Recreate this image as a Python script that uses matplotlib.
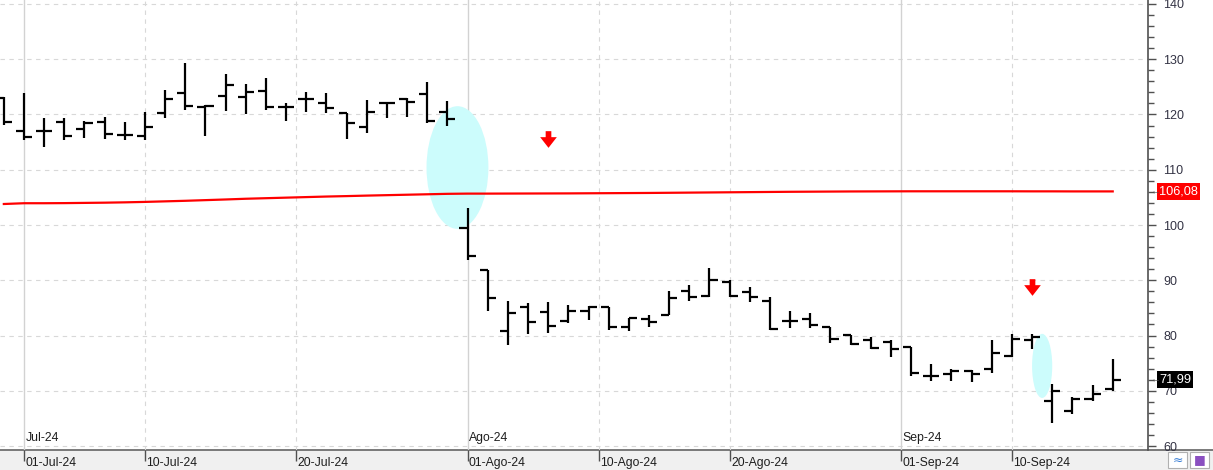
import numpy as np
import pandas as pd
import matplotlib
matplotlib.use("Agg")
import matplotlib.pyplot as plt
from matplotlib.patches import Ellipse, Rectangle
from matplotlib.path import Path
from matplotlib.lines import Line2D
import matplotlib.transforms as mtransforms

plt.rcParams['font.family'] = ['Liberation Sans', 'DejaVu Sans']

# trading days (US calendar, Jul 4 and Sep 2 closed)
dates = pd.bdate_range('2024-06-28', '2024-09-17')
dates = dates.drop(pd.to_datetime(['2024-07-04', '2024-09-02']))

# OHLC
opens = [122.9, 117.1, 117.1, 118.7, 117.4, 118.7, 116.3, 116.1, 120.2, 123.8,
         121.4, 123.4, 123.2, 124.3, 121.3, 122.75, 122.0, 120.2, 117.8, 122.0,
         122.75, 123.7, 120.4, 99.4, 91.9, 80.8, 85.2, 84.3, 82.6, 84.5,
         85.2, 81.6, 83.0, 83.8, 88.1, 87.15, 89.6, 87.9, 86.3, 82.7,
         83.0, 81.5, 80.1, 79.1, 78.9, 77.9, 72.7, 73.0, 73.6, 73.9,
         76.3, 79.2, 68.1, 66.4, 68.45, 70.4]
highs = [123.1, 123.95, 119.3, 119.3, 118.9, 119.5, 118.7, 120.5, 124.4, 129.4,
         121.7, 127.3, 125.5, 126.6, 122.1, 124.1, 123.8, 120.2, 122.6, 122.3,
         122.9, 125.8, 122.5, 103.0, 91.9, 86.2, 85.9, 86.1, 85.6, 85.4,
         85.2, 83.1, 83.8, 88.1, 89.1, 92.2, 90.0, 88.8, 87.0, 84.5,
         84.0, 81.6, 80.1, 79.8, 79.1, 77.9, 74.8, 73.9, 73.8, 79.1,
         80.2, 80.2, 71.2, 68.9, 71.0, 75.7]
lows = [118.1, 115.3, 114.1, 115.4, 115.7, 115.5, 115.3, 115.4, 119.3, 120.9,
        116.1, 120.7, 120.1, 120.9, 118.8, 120.4, 120.2, 115.5, 116.6, 119.3,
        119.6, 118.5, 118.0, 93.7, 84.5, 78.2, 80.2, 80.4, 82.2, 82.8,
        81.0, 80.8, 81.5, 83.8, 86.3, 87.0, 87.0, 86.0, 81.0, 81.3,
        81.3, 78.6, 78.3, 77.6, 76.2, 72.7, 71.8, 71.8, 71.6, 73.3,
        76.05, 77.5, 64.2, 65.8, 68.2, 70.0]
closes = [118.7, 116.0, 117.1, 116.1, 118.4, 116.5, 116.3, 117.7, 122.8, 121.5,
          121.5, 125.3, 124.1, 121.3, 121.3, 122.75, 121.2, 118.5, 120.5, 122.1,
          122.3, 118.8, 119.2, 94.4, 86.8, 84.0, 82.5, 81.7, 84.5, 85.2,
          81.6, 83.1, 82.5, 86.8, 87.0, 90.0, 87.2, 86.9, 81.2, 82.7,
          81.9, 79.3, 78.5, 77.8, 77.6, 73.2, 72.7, 73.6, 73.0, 76.9,
          79.4, 79.8, 70.0, 68.6, 69.4, 71.99]

# red moving average
sma = [103.8, 103.94, 103.94, 103.96, 104.0, 104.04, 104.1, 104.18, 104.28, 104.38,
       104.5, 104.62, 104.75, 104.85, 104.95, 105.05, 105.15, 105.23, 105.32, 105.4,
       105.48, 105.56, 105.64, 105.68, 105.68, 105.69, 105.7, 105.71, 105.72, 105.74,
       105.76, 105.78, 105.8, 105.83, 105.86, 105.89, 105.92, 105.95, 105.98, 106.01,
       106.03, 106.05, 106.07, 106.08, 106.09, 106.1, 106.1, 106.1, 106.1, 106.1,
       106.1, 106.09, 106.09, 106.08, 106.08, 106.08]

# signals and gaps
signal_dates = ['2024-08-07', '2024-09-11']
signal_levels = [115.6, 88.8]
gap_dates = ['2024-08-01', '2024-09-12']
gap_tops = [121.5, 80.3]
gap_bottoms = [99.3, 68.7]

day_labels = ['01-Jul-24', '10-Jul-24', '20-Jul-24', '01-Ago-24',
              '10-Ago-24', '20-Ago-24', '01-Sep-24', '10-Sep-24']
day_dates = ['2024-07-01', '2024-07-10', '2024-07-20', '2024-08-01',
             '2024-08-10', '2024-08-20', '2024-09-01', '2024-09-10']
month_labels = ['Jul-24', 'Ago-24', 'Sep-24']
month_dates = ['2024-07-01', '2024-08-01', '2024-09-01']


def date_pos(d):
    d = pd.Timestamp(d)
    i = dates.searchsorted(d)
    if i < len(dates) and dates[i] == d:
        return float(i)
    return i - 0.5


x = np.arange(len(dates))

W, H = 1213, 470
fig = plt.figure(figsize=(W / 100, H / 100), dpi=100)
fig.patch.set_facecolor('white')
# bottom grey band
fig.patches.append(Rectangle((0, 0), 1, 20 / H, transform=fig.transFigure,
                             facecolor='#f0f0f0', edgecolor='none', zorder=-2))
fig.lines.append(Line2D([0, 1], [20 / H, 20 / H], transform=fig.transFigure,
                        color='#646464', lw=1.2, zorder=-1))

ax = fig.add_axes([0, 20 / H, 1148 / W, 450 / H])
ax.set_facecolor('none')
ax.set_xlim(-0.19, 56.75)
ax.set_ylim(59.28, 140.72)

# grid
for v in range(60, 141, 10):
    ax.axhline(v, color='#d8d8d8', lw=0.8, ls=(0, (4, 4)), zorder=0.5)
month_pos = [date_pos(d) for d in month_dates]
day_pos = [date_pos(d) for d in day_dates]
for p in day_pos:
    if p in month_pos:
        ax.axvline(p, color='#d2d2d2', lw=1.0, zorder=0.5)
    else:
        ax.axvline(p, color='#d8d8d8', lw=0.8, ls=(0, (4, 4)), zorder=0.5)

# gap ellipses
ell_w = [3.07, 1.0]
for d, t, b, w in zip(gap_dates, gap_tops, gap_bottoms, ell_w):
    cx = date_pos(d) - 0.5
    ax.add_patch(Ellipse((cx, (t + b) / 2), w, t - b, facecolor='#ccfcfc',
                         edgecolor='none', zorder=0.8))

# OHLC bars
tick = 0.4
ax.vlines(x, lows, highs, color='black', lw=1.6, zorder=3)
ax.hlines(opens, x - tick, x, color='black', lw=1.6, zorder=3)
ax.hlines(closes, x, x + tick, color='black', lw=1.6, zorder=3)

# moving average
ax.plot(x, sma, color='#ff0000', lw=1.6, zorder=2.5)

# signal arrows
arrow = Path([(-0.17, 0.5), (0.17, 0.5), (0.17, 0.14), (0.5, 0.14), (0.0, -0.5),
              (-0.5, 0.14), (-0.17, 0.14), (-0.17, 0.5)])
ax.plot([date_pos(d) for d in signal_dates], signal_levels, ls='none',
        marker=arrow, ms=12, color='#ff0000', mec='none', zorder=4)

# axes styling
for s in ['left', 'top', 'bottom']:
    ax.spines[s].set_visible(False)
ax.spines['right'].set_color('#505050')
ax.spines['right'].set_linewidth(1.2)

ax.yaxis.tick_right()
ax.set_yticks(range(60, 141, 10))
ax.set_yticks(range(60, 141, 2), minor=True)
ax.tick_params(axis='y', which='major', length=6, width=1, color='#505050',
               labelsize=9, labelcolor='#333344', pad=5)
ax.tick_params(axis='y', which='minor', length=4, width=1, color='#505050')

ax.set_xticks(day_pos)
ax.tick_params(axis='x', length=8, width=1, color='#505050', labelbottom=False)

# date labels under the axis and month labels just above it
trans = mtransforms.blended_transform_factory(ax.transData, ax.transAxes)
for p, lab in zip(day_pos, day_labels):
    ax.text(p + 0.07, -13 / 450, lab, transform=trans, fontsize=8.8,
            color='#1e1e1e', ha='left', va='center', clip_on=False)
for p, lab in zip(month_pos, month_labels):
    ax.text(p + 0.07, 12 / 450, lab, transform=trans, fontsize=8.8,
            color='#1e1e1e', ha='left', va='center')

# last value boxes on the price axis
ytr = mtransforms.blended_transform_factory(ax.transAxes, ax.transData)
for val, fc in [(sma[-1], '#ff0000'), (closes[-1], '#000000')]:
    txt = f'{val:.2f}'.replace('.', ',')
    ax.text(1 + 11 / 1148, val, txt, transform=ytr, fontsize=9.2, color='white',
            ha='left', va='center', zorder=6, clip_on=False,
            bbox=dict(boxstyle='square,pad=0.18', fc=fc, ec='none'))
    ax.text(1 + 2 / 1148, val, '\u2190', transform=ytr, fontsize=7,
            color='#505050', ha='left', va='center', zorder=6, clip_on=False)

# little toolbar buttons bottom right
for x0, sym, col in [(1168, '\u2248', '#3a7fd5'), (1190, '\u25a0', '#8a4fc0')]:
    fig.patches.append(Rectangle((x0 / W, 2 / H), 19 / W, 16 / H,
                                 transform=fig.transFigure, facecolor='white',
                                 edgecolor='#b0b0b0', lw=0.8))
    fig.text((x0 + 9.5) / W, 10 / H, sym, color=col, fontsize=9,
             ha='center', va='center', family='DejaVu Sans')

fig.savefig('out.png', dpi=100)
